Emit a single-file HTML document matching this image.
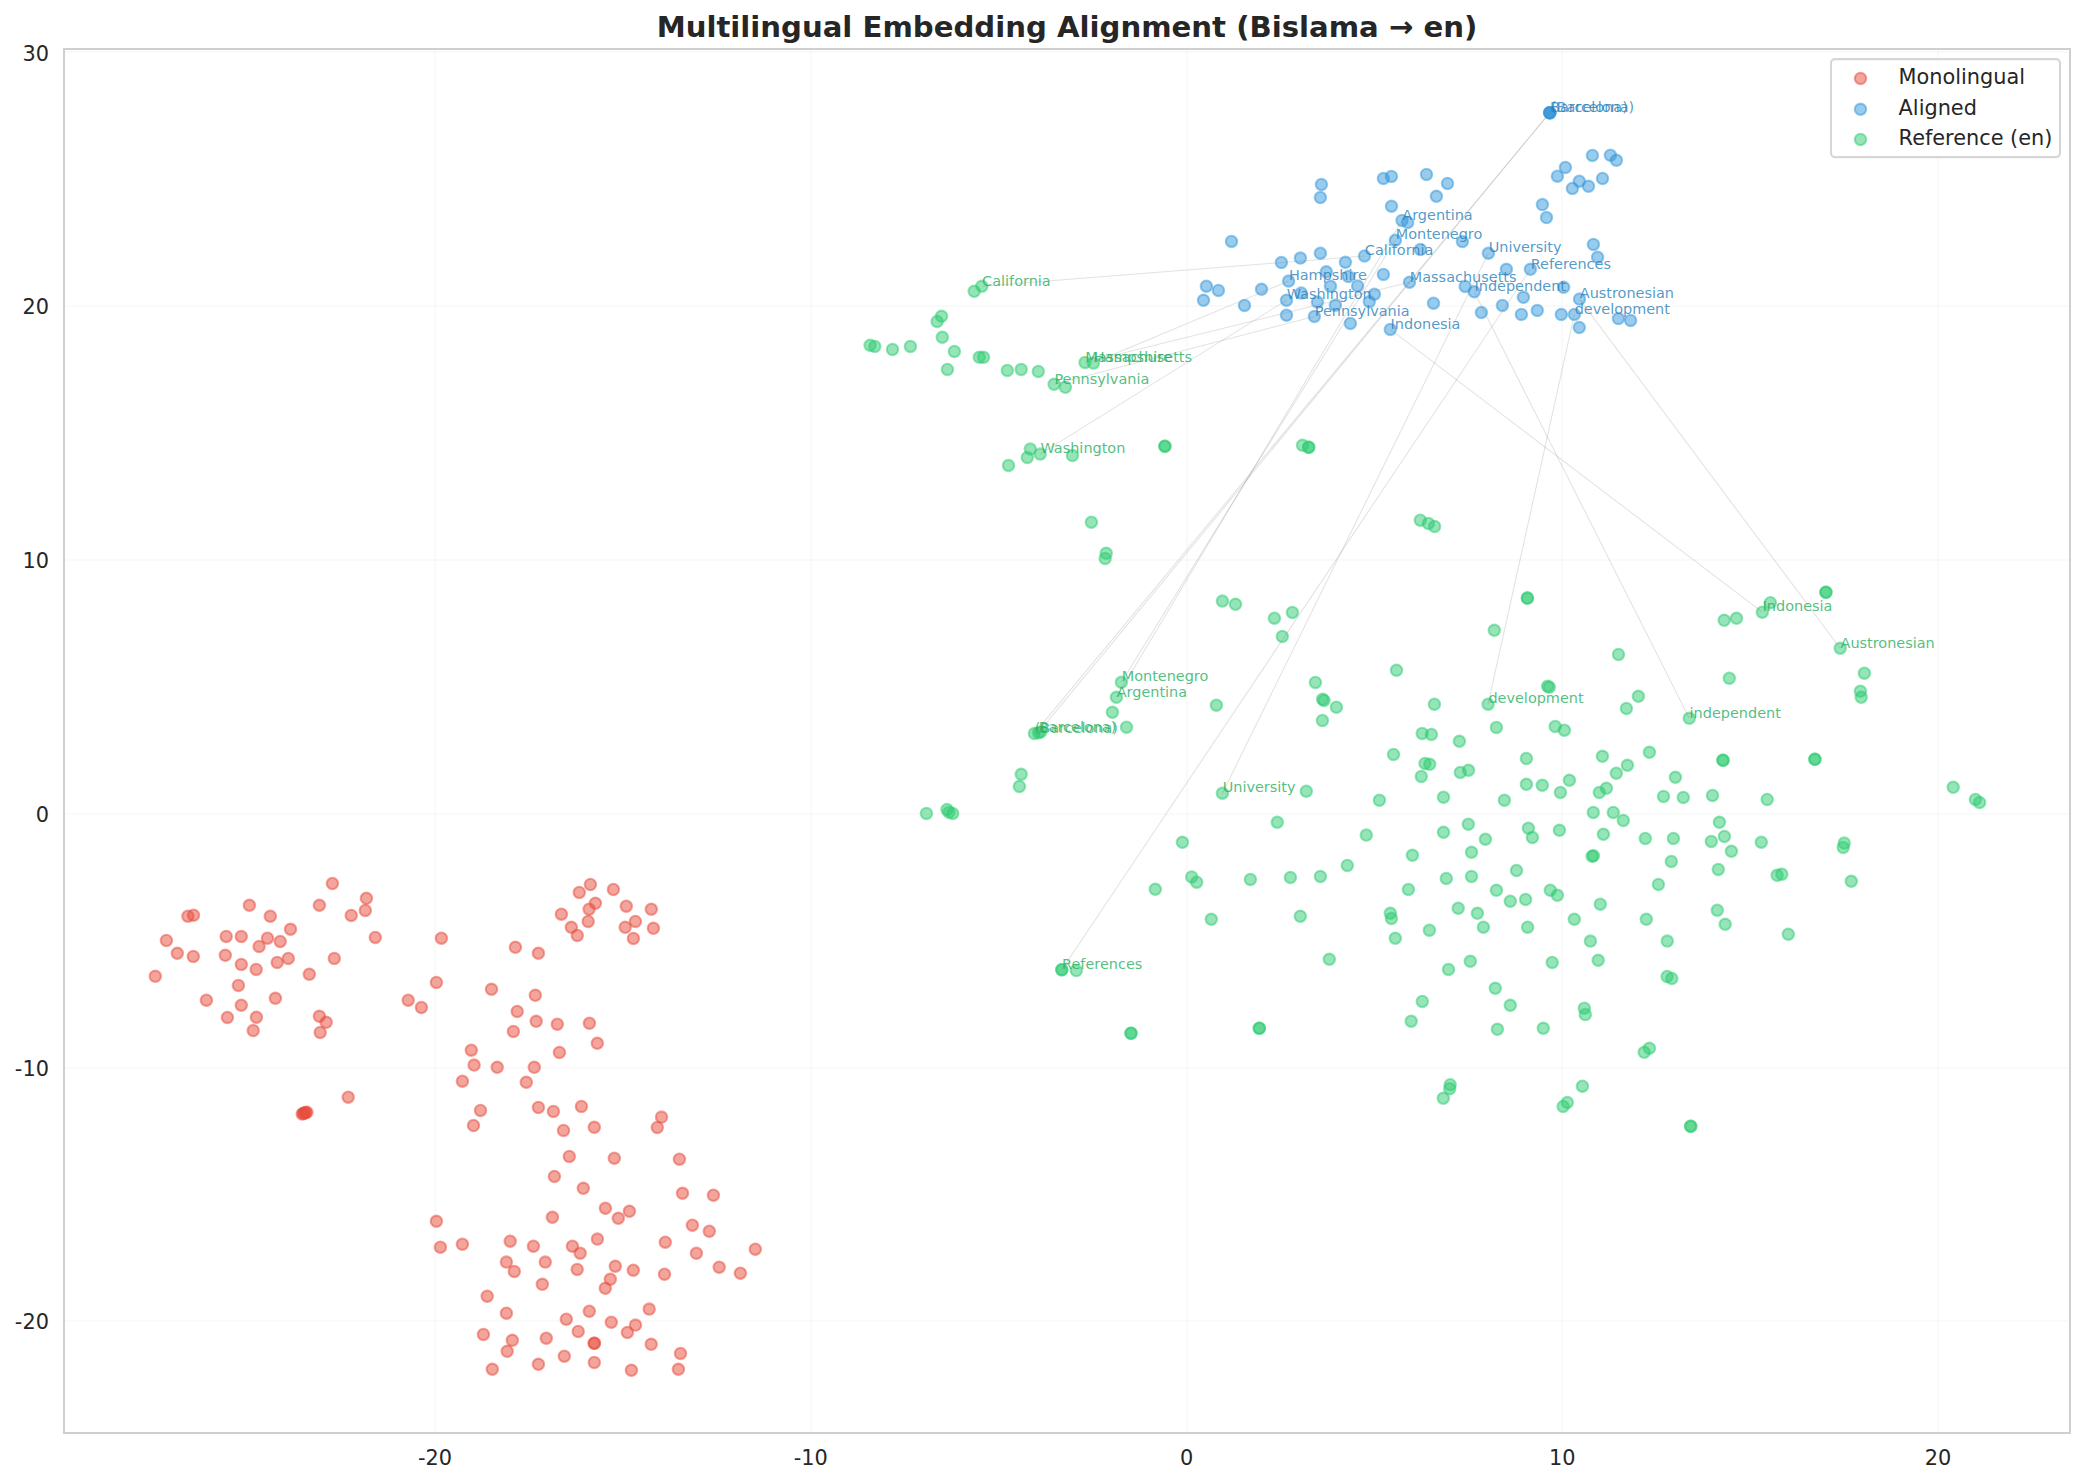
<!DOCTYPE html>
<html lang="en"><head><meta charset="utf-8"><title>Multilingual Embedding Alignment (Bislama → en)</title>
<style>
html,body{margin:0;padding:0;background:#fff}
svg{display:block}
text{font-family:"DejaVu Sans","Liberation Sans",sans-serif}
.tk{font-size:20.83px;fill:#262626}
.r{fill:#e74c3c;stroke:#e74c3c}.b{fill:#3498db;stroke:#3498db}.g{fill:#2ecc71;stroke:#2ecc71}
.p circle{fill-opacity:.5;stroke-opacity:.5;stroke-width:2.08}
.lb{font-size:14.45px;fill:#2980b9;fill-opacity:.8}
.lg{font-size:14.45px;fill:#27ae60;fill-opacity:.8}
.ln line{stroke:#808080;stroke-opacity:.23;stroke-width:1.04}
.gr line{stroke:#ccc;stroke-opacity:.1;stroke-width:2;shape-rendering:crispEdges}
</style></head><body>
<svg width="2085" height="1483" viewBox="0 0 2085 1483">
<rect width="2085" height="1483" fill="#fff"/>
<g class="gr">
<line x1="435" y1="49" x2="435" y2="1433"/>
<line x1="811" y1="49" x2="811" y2="1433"/>
<line x1="1187" y1="49" x2="1187" y2="1433"/>
<line x1="1562" y1="49" x2="1562" y2="1433"/>
<line x1="1938" y1="49" x2="1938" y2="1433"/>
<line x1="64" y1="1321" x2="2070" y2="1321"/>
<line x1="64" y1="1068" x2="2070" y2="1068"/>
<line x1="64" y1="814" x2="2070" y2="814"/>
<line x1="64" y1="560" x2="2070" y2="560"/>
<line x1="64" y1="306" x2="2070" y2="306"/>
<line x1="64" y1="52" x2="2070" y2="52"/>
</g>
<g class="p">
<g class="r">
<circle cx="332.4" cy="883.5" r="5.7"/>
<circle cx="366.4" cy="898.3" r="5.7"/>
<circle cx="365.3" cy="910.4" r="5.7"/>
<circle cx="319.4" cy="905.3" r="5.7"/>
<circle cx="351.2" cy="915.4" r="5.7"/>
<circle cx="249.4" cy="905.3" r="5.7"/>
<circle cx="270.3" cy="916.2" r="5.7"/>
<circle cx="187.9" cy="916.2" r="5.7"/>
<circle cx="193.5" cy="915.2" r="5.7"/>
<circle cx="290.5" cy="929.3" r="5.7"/>
<circle cx="226.2" cy="936.4" r="5.7"/>
<circle cx="241.3" cy="936.4" r="5.7"/>
<circle cx="267.5" cy="938.2" r="5.7"/>
<circle cx="280.2" cy="941.4" r="5.7"/>
<circle cx="259.1" cy="946.5" r="5.7"/>
<circle cx="166.4" cy="940.4" r="5.7"/>
<circle cx="375.3" cy="937.4" r="5.7"/>
<circle cx="441.4" cy="938.2" r="5.7"/>
<circle cx="177.3" cy="953.3" r="5.7"/>
<circle cx="193.3" cy="956.4" r="5.7"/>
<circle cx="225.3" cy="955.3" r="5.7"/>
<circle cx="288.3" cy="958.4" r="5.7"/>
<circle cx="277.2" cy="962.4" r="5.7"/>
<circle cx="334.3" cy="958.4" r="5.7"/>
<circle cx="241.3" cy="964.4" r="5.7"/>
<circle cx="256.2" cy="969.4" r="5.7"/>
<circle cx="309.3" cy="974.3" r="5.7"/>
<circle cx="155.3" cy="976.3" r="5.7"/>
<circle cx="238.4" cy="985.4" r="5.7"/>
<circle cx="436.4" cy="982.4" r="5.7"/>
<circle cx="206.4" cy="1000.2" r="5.7"/>
<circle cx="275.4" cy="998.3" r="5.7"/>
<circle cx="241.3" cy="1005.2" r="5.7"/>
<circle cx="408.2" cy="1000.2" r="5.7"/>
<circle cx="421.4" cy="1007.4" r="5.7"/>
<circle cx="227.4" cy="1017.5" r="5.7"/>
<circle cx="256.4" cy="1017.3" r="5.7"/>
<circle cx="319.4" cy="1016.3" r="5.7"/>
<circle cx="326.2" cy="1022.3" r="5.7"/>
<circle cx="253.2" cy="1030.6" r="5.7"/>
<circle cx="320.2" cy="1032.4" r="5.7"/>
<circle cx="471.3" cy="1050.2" r="5.7"/>
<circle cx="474.1" cy="1065.1" r="5.7"/>
<circle cx="462.4" cy="1081.2" r="5.7"/>
<circle cx="348.2" cy="1097.2" r="5.7"/>
<circle cx="302.2" cy="1113.9" r="5.7"/>
<circle cx="303.4" cy="1113.4" r="5.7"/>
<circle cx="304.5" cy="1112.9" r="5.7"/>
<circle cx="305.7" cy="1112.6" r="5.7"/>
<circle cx="306.9" cy="1112.2" r="5.7"/>
<circle cx="590.4" cy="884.5" r="5.7"/>
<circle cx="579.3" cy="892.4" r="5.7"/>
<circle cx="613.4" cy="889.5" r="5.7"/>
<circle cx="595.4" cy="903.3" r="5.7"/>
<circle cx="589.1" cy="909.2" r="5.7"/>
<circle cx="626.3" cy="906.2" r="5.7"/>
<circle cx="651.3" cy="909.2" r="5.7"/>
<circle cx="561.4" cy="914.2" r="5.7"/>
<circle cx="588.2" cy="921.4" r="5.7"/>
<circle cx="635.4" cy="921.4" r="5.7"/>
<circle cx="571.3" cy="927.3" r="5.7"/>
<circle cx="625.2" cy="927.3" r="5.7"/>
<circle cx="653.4" cy="928.3" r="5.7"/>
<circle cx="577.3" cy="935.4" r="5.7"/>
<circle cx="633.4" cy="938.4" r="5.7"/>
<circle cx="515.4" cy="947.3" r="5.7"/>
<circle cx="538.4" cy="953.3" r="5.7"/>
<circle cx="491.5" cy="989.3" r="5.7"/>
<circle cx="535.3" cy="995.3" r="5.7"/>
<circle cx="517.2" cy="1011.4" r="5.7"/>
<circle cx="536.2" cy="1021.3" r="5.7"/>
<circle cx="557.3" cy="1024.2" r="5.7"/>
<circle cx="589.4" cy="1023.2" r="5.7"/>
<circle cx="513.4" cy="1031.4" r="5.7"/>
<circle cx="597.3" cy="1043.3" r="5.7"/>
<circle cx="559.4" cy="1052.4" r="5.7"/>
<circle cx="497.2" cy="1067.3" r="5.7"/>
<circle cx="534.3" cy="1067.3" r="5.7"/>
<circle cx="526.3" cy="1082.3" r="5.7"/>
<circle cx="480.5" cy="1110.4" r="5.7"/>
<circle cx="538.4" cy="1107.4" r="5.7"/>
<circle cx="553.4" cy="1111.4" r="5.7"/>
<circle cx="581.4" cy="1106.4" r="5.7"/>
<circle cx="473.5" cy="1125.5" r="5.7"/>
<circle cx="563.5" cy="1130.4" r="5.7"/>
<circle cx="594.3" cy="1127.3" r="5.7"/>
<circle cx="661.5" cy="1117.1" r="5.7"/>
<circle cx="657.3" cy="1127.5" r="5.7"/>
<circle cx="569.3" cy="1156.4" r="5.7"/>
<circle cx="614.3" cy="1158.2" r="5.7"/>
<circle cx="679.4" cy="1159.2" r="5.7"/>
<circle cx="554.4" cy="1176.4" r="5.7"/>
<circle cx="583.3" cy="1188.3" r="5.7"/>
<circle cx="682.5" cy="1193.3" r="5.7"/>
<circle cx="713.4" cy="1195.2" r="5.7"/>
<circle cx="605.4" cy="1208.2" r="5.7"/>
<circle cx="629.4" cy="1211.3" r="5.7"/>
<circle cx="618.3" cy="1218.3" r="5.7"/>
<circle cx="552.4" cy="1217.3" r="5.7"/>
<circle cx="436.4" cy="1221.3" r="5.7"/>
<circle cx="692.4" cy="1225.2" r="5.7"/>
<circle cx="709.3" cy="1231.2" r="5.7"/>
<circle cx="510.2" cy="1241.2" r="5.7"/>
<circle cx="597.4" cy="1239.1" r="5.7"/>
<circle cx="665.3" cy="1242.2" r="5.7"/>
<circle cx="440.4" cy="1247.2" r="5.7"/>
<circle cx="462.4" cy="1244.2" r="5.7"/>
<circle cx="533.4" cy="1246.2" r="5.7"/>
<circle cx="572.4" cy="1246.2" r="5.7"/>
<circle cx="580.2" cy="1253.2" r="5.7"/>
<circle cx="755.3" cy="1249.2" r="5.7"/>
<circle cx="696.4" cy="1253.2" r="5.7"/>
<circle cx="506.4" cy="1262.1" r="5.7"/>
<circle cx="545.3" cy="1262.1" r="5.7"/>
<circle cx="514.3" cy="1271.4" r="5.7"/>
<circle cx="577.2" cy="1269.4" r="5.7"/>
<circle cx="615.3" cy="1266.3" r="5.7"/>
<circle cx="633.3" cy="1270.2" r="5.7"/>
<circle cx="664.5" cy="1274.2" r="5.7"/>
<circle cx="719.2" cy="1267.2" r="5.7"/>
<circle cx="740.4" cy="1273.2" r="5.7"/>
<circle cx="610.3" cy="1279.3" r="5.7"/>
<circle cx="605.3" cy="1288.3" r="5.7"/>
<circle cx="542.3" cy="1284.3" r="5.7"/>
<circle cx="487.2" cy="1296.2" r="5.7"/>
<circle cx="506.4" cy="1313.2" r="5.7"/>
<circle cx="589.3" cy="1311.2" r="5.7"/>
<circle cx="649.2" cy="1309.1" r="5.7"/>
<circle cx="566.3" cy="1319.2" r="5.7"/>
<circle cx="611.3" cy="1322.2" r="5.7"/>
<circle cx="635.5" cy="1325.1" r="5.7"/>
<circle cx="578.2" cy="1331.4" r="5.7"/>
<circle cx="627.4" cy="1332.4" r="5.7"/>
<circle cx="483.4" cy="1334.4" r="5.7"/>
<circle cx="512.3" cy="1340.3" r="5.7"/>
<circle cx="546.3" cy="1338.2" r="5.7"/>
<circle cx="594.3" cy="1343.3" r="5.7"/>
<circle cx="594.3" cy="1343.3" r="5.7"/>
<circle cx="651.2" cy="1344.3" r="5.7"/>
<circle cx="507.2" cy="1351.3" r="5.7"/>
<circle cx="564.3" cy="1356.2" r="5.7"/>
<circle cx="680.5" cy="1353.4" r="5.7"/>
<circle cx="538.4" cy="1364.3" r="5.7"/>
<circle cx="594.3" cy="1362.4" r="5.7"/>
<circle cx="492.3" cy="1369.3" r="5.7"/>
<circle cx="631.4" cy="1370.3" r="5.7"/>
<circle cx="678.4" cy="1369.3" r="5.7"/>
</g>
<g class="b">
<circle cx="1320.4" cy="197.5" r="5.7"/>
<circle cx="1391.5" cy="206.2" r="5.7"/>
<circle cx="1402.0" cy="220.4" r="5.7"/>
<circle cx="1407.7" cy="222.4" r="5.7"/>
<circle cx="1231.5" cy="241.4" r="5.7"/>
<circle cx="1395.4" cy="240.2" r="5.7"/>
<circle cx="1320.4" cy="253.2" r="5.7"/>
<circle cx="1420.4" cy="249.6" r="5.7"/>
<circle cx="1300.4" cy="258.1" r="5.7"/>
<circle cx="1364.5" cy="256.0" r="5.7"/>
<circle cx="1281.4" cy="262.4" r="5.7"/>
<circle cx="1345.4" cy="262.2" r="5.7"/>
<circle cx="1326.3" cy="271.8" r="5.7"/>
<circle cx="1383.4" cy="274.4" r="5.7"/>
<circle cx="1348.4" cy="276.5" r="5.7"/>
<circle cx="1288.6" cy="281.1" r="5.7"/>
<circle cx="1409.5" cy="282.3" r="5.7"/>
<circle cx="1206.4" cy="286.2" r="5.7"/>
<circle cx="1218.4" cy="290.4" r="5.7"/>
<circle cx="1261.5" cy="289.3" r="5.7"/>
<circle cx="1330.5" cy="286.2" r="5.7"/>
<circle cx="1357.6" cy="285.9" r="5.7"/>
<circle cx="1301.2" cy="293.0" r="5.7"/>
<circle cx="1374.4" cy="294.2" r="5.7"/>
<circle cx="1203.5" cy="300.3" r="5.7"/>
<circle cx="1286.5" cy="300.2" r="5.7"/>
<circle cx="1317.4" cy="302.0" r="5.7"/>
<circle cx="1369.3" cy="301.8" r="5.7"/>
<circle cx="1244.5" cy="305.4" r="5.7"/>
<circle cx="1335.4" cy="305.3" r="5.7"/>
<circle cx="1286.5" cy="315.2" r="5.7"/>
<circle cx="1314.4" cy="316.4" r="5.7"/>
<circle cx="1350.4" cy="323.4" r="5.7"/>
<circle cx="1390.3" cy="329.4" r="5.7"/>
<circle cx="1436.4" cy="196.3" r="5.7"/>
<circle cx="1542.4" cy="204.6" r="5.7"/>
<circle cx="1546.5" cy="217.6" r="5.7"/>
<circle cx="1462.4" cy="241.6" r="5.7"/>
<circle cx="1488.4" cy="253.2" r="5.7"/>
<circle cx="1593.4" cy="244.4" r="5.7"/>
<circle cx="1597.6" cy="257.2" r="5.7"/>
<circle cx="1506.4" cy="269.3" r="5.7"/>
<circle cx="1530.4" cy="269.3" r="5.7"/>
<circle cx="1465.2" cy="286.4" r="5.7"/>
<circle cx="1474.2" cy="291.8" r="5.7"/>
<circle cx="1563.6" cy="287.3" r="5.7"/>
<circle cx="1523.4" cy="297.3" r="5.7"/>
<circle cx="1579.5" cy="299.1" r="5.7"/>
<circle cx="1433.5" cy="303.2" r="5.7"/>
<circle cx="1502.4" cy="305.4" r="5.7"/>
<circle cx="1481.4" cy="312.5" r="5.7"/>
<circle cx="1521.4" cy="314.4" r="5.7"/>
<circle cx="1537.3" cy="310.4" r="5.7"/>
<circle cx="1561.3" cy="314.4" r="5.7"/>
<circle cx="1574.4" cy="314.4" r="5.7"/>
<circle cx="1618.4" cy="318.6" r="5.7"/>
<circle cx="1630.6" cy="320.4" r="5.7"/>
<circle cx="1579.3" cy="327.5" r="5.7"/>
<circle cx="1321.4" cy="184.5" r="5.7"/>
<circle cx="1383.4" cy="178.5" r="5.7"/>
<circle cx="1391.4" cy="176.4" r="5.7"/>
<circle cx="1426.5" cy="174.4" r="5.7"/>
<circle cx="1447.5" cy="183.4" r="5.7"/>
<circle cx="1549.8" cy="112.7" r="5.7"/>
<circle cx="1549.8" cy="112.7" r="5.7"/>
<circle cx="1549.8" cy="112.7" r="5.7"/>
<circle cx="1549.8" cy="112.7" r="5.7"/>
<circle cx="1592.4" cy="155.4" r="5.7"/>
<circle cx="1610.4" cy="155.2" r="5.7"/>
<circle cx="1616.4" cy="160.3" r="5.7"/>
<circle cx="1565.4" cy="167.4" r="5.7"/>
<circle cx="1557.4" cy="176.2" r="5.7"/>
<circle cx="1579.3" cy="181.2" r="5.7"/>
<circle cx="1572.4" cy="188.4" r="5.7"/>
<circle cx="1588.5" cy="186.3" r="5.7"/>
<circle cx="1602.5" cy="178.5" r="5.7"/>
</g>
<g class="g">
<circle cx="981.8" cy="286.3" r="5.7"/>
<circle cx="974.2" cy="291.3" r="5.7"/>
<circle cx="941.5" cy="316.3" r="5.7"/>
<circle cx="937.1" cy="321.5" r="5.7"/>
<circle cx="942.3" cy="337.3" r="5.7"/>
<circle cx="870.1" cy="345.3" r="5.7"/>
<circle cx="874.8" cy="346.4" r="5.7"/>
<circle cx="892.5" cy="349.4" r="5.7"/>
<circle cx="910.4" cy="346.4" r="5.7"/>
<circle cx="954.4" cy="351.4" r="5.7"/>
<circle cx="979.3" cy="357.3" r="5.7"/>
<circle cx="983.5" cy="357.3" r="5.7"/>
<circle cx="947.4" cy="369.4" r="5.7"/>
<circle cx="1007.3" cy="370.4" r="5.7"/>
<circle cx="1021.2" cy="369.4" r="5.7"/>
<circle cx="1038.3" cy="371.4" r="5.7"/>
<circle cx="1085.0" cy="362.5" r="5.7"/>
<circle cx="1093.4" cy="363.1" r="5.7"/>
<circle cx="1054.1" cy="384.3" r="5.7"/>
<circle cx="1065.4" cy="387.3" r="5.7"/>
<circle cx="1030.3" cy="449.1" r="5.7"/>
<circle cx="1040.2" cy="454.1" r="5.7"/>
<circle cx="1027.3" cy="457.5" r="5.7"/>
<circle cx="1008.5" cy="465.4" r="5.7"/>
<circle cx="1072.4" cy="455.5" r="5.7"/>
<circle cx="1164.9" cy="446.2" r="5.7"/>
<circle cx="1164.9" cy="446.2" r="5.7"/>
<circle cx="1302.5" cy="445.3" r="5.7"/>
<circle cx="1308.7" cy="447.3" r="5.7"/>
<circle cx="1308.7" cy="447.3" r="5.7"/>
<circle cx="1420.3" cy="520.2" r="5.7"/>
<circle cx="1428.4" cy="523.4" r="5.7"/>
<circle cx="1434.6" cy="526.4" r="5.7"/>
<circle cx="1222.4" cy="601.1" r="5.7"/>
<circle cx="1235.5" cy="604.3" r="5.7"/>
<circle cx="1274.4" cy="618.2" r="5.7"/>
<circle cx="1292.4" cy="612.4" r="5.7"/>
<circle cx="1282.3" cy="636.4" r="5.7"/>
<circle cx="1494.3" cy="630.3" r="5.7"/>
<circle cx="1527.4" cy="598.1" r="5.7"/>
<circle cx="1527.4" cy="598.1" r="5.7"/>
<circle cx="1396.5" cy="670.3" r="5.7"/>
<circle cx="1315.4" cy="682.4" r="5.7"/>
<circle cx="1216.4" cy="705.2" r="5.7"/>
<circle cx="1322.6" cy="699.3" r="5.7"/>
<circle cx="1324.0" cy="700.5" r="5.7"/>
<circle cx="1336.4" cy="707.2" r="5.7"/>
<circle cx="1322.4" cy="720.6" r="5.7"/>
<circle cx="1434.4" cy="704.2" r="5.7"/>
<circle cx="1488.1" cy="704.2" r="5.7"/>
<circle cx="1496.4" cy="727.4" r="5.7"/>
<circle cx="1422.2" cy="733.4" r="5.7"/>
<circle cx="1431.4" cy="734.4" r="5.7"/>
<circle cx="1459.4" cy="741.3" r="5.7"/>
<circle cx="1393.5" cy="754.4" r="5.7"/>
<circle cx="1526.4" cy="758.4" r="5.7"/>
<circle cx="1425.0" cy="763.5" r="5.7"/>
<circle cx="1429.7" cy="764.3" r="5.7"/>
<circle cx="1421.3" cy="776.4" r="5.7"/>
<circle cx="1460.3" cy="772.4" r="5.7"/>
<circle cx="1468.5" cy="770.3" r="5.7"/>
<circle cx="1526.4" cy="784.3" r="5.7"/>
<circle cx="1222.4" cy="793.2" r="5.7"/>
<circle cx="1306.3" cy="791.2" r="5.7"/>
<circle cx="1379.4" cy="800.2" r="5.7"/>
<circle cx="1443.5" cy="797.2" r="5.7"/>
<circle cx="1504.4" cy="800.2" r="5.7"/>
<circle cx="1277.3" cy="822.2" r="5.7"/>
<circle cx="1468.3" cy="824.2" r="5.7"/>
<circle cx="1366.3" cy="835.1" r="5.7"/>
<circle cx="1443.5" cy="832.3" r="5.7"/>
<circle cx="1528.4" cy="828.2" r="5.7"/>
<circle cx="1532.4" cy="837.5" r="5.7"/>
<circle cx="1485.4" cy="839.2" r="5.7"/>
<circle cx="1412.4" cy="855.3" r="5.7"/>
<circle cx="1471.5" cy="852.3" r="5.7"/>
<circle cx="1347.3" cy="865.4" r="5.7"/>
<circle cx="1191.7" cy="876.9" r="5.7"/>
<circle cx="1196.7" cy="882.2" r="5.7"/>
<circle cx="1250.4" cy="879.4" r="5.7"/>
<circle cx="1290.4" cy="877.4" r="5.7"/>
<circle cx="1320.4" cy="876.4" r="5.7"/>
<circle cx="1516.5" cy="870.5" r="5.7"/>
<circle cx="1446.3" cy="878.4" r="5.7"/>
<circle cx="1471.5" cy="876.4" r="5.7"/>
<circle cx="1408.4" cy="889.4" r="5.7"/>
<circle cx="1496.4" cy="890.3" r="5.7"/>
<circle cx="1510.3" cy="901.2" r="5.7"/>
<circle cx="1525.6" cy="899.4" r="5.7"/>
<circle cx="1458.2" cy="908.2" r="5.7"/>
<circle cx="1477.4" cy="913.3" r="5.7"/>
<circle cx="1390.3" cy="913.3" r="5.7"/>
<circle cx="1391.4" cy="918.5" r="5.7"/>
<circle cx="1211.3" cy="919.3" r="5.7"/>
<circle cx="1300.3" cy="916.3" r="5.7"/>
<circle cx="1483.4" cy="927.2" r="5.7"/>
<circle cx="1527.6" cy="927.2" r="5.7"/>
<circle cx="1429.4" cy="930.2" r="5.7"/>
<circle cx="1395.3" cy="938.3" r="5.7"/>
<circle cx="1329.3" cy="959.3" r="5.7"/>
<circle cx="1470.3" cy="961.3" r="5.7"/>
<circle cx="1448.5" cy="969.4" r="5.7"/>
<circle cx="1495.3" cy="988.3" r="5.7"/>
<circle cx="1422.3" cy="1001.4" r="5.7"/>
<circle cx="1510.3" cy="1005.3" r="5.7"/>
<circle cx="1411.2" cy="1021.2" r="5.7"/>
<circle cx="1497.4" cy="1029.3" r="5.7"/>
<circle cx="1259.3" cy="1028.3" r="5.7"/>
<circle cx="1259.3" cy="1028.3" r="5.7"/>
<circle cx="1450.2" cy="1084.7" r="5.7"/>
<circle cx="1449.7" cy="1088.7" r="5.7"/>
<circle cx="1552.2" cy="962.4" r="5.7"/>
<circle cx="1598.2" cy="960.3" r="5.7"/>
<circle cx="1667.1" cy="976.5" r="5.7"/>
<circle cx="1671.8" cy="978.5" r="5.7"/>
<circle cx="1584.3" cy="1008.2" r="5.7"/>
<circle cx="1585.3" cy="1014.6" r="5.7"/>
<circle cx="1543.3" cy="1028.3" r="5.7"/>
<circle cx="1649.4" cy="1048.3" r="5.7"/>
<circle cx="1644.2" cy="1052.3" r="5.7"/>
<circle cx="1443.3" cy="1098.3" r="5.7"/>
<circle cx="1582.4" cy="1086.2" r="5.7"/>
<circle cx="1567.3" cy="1102.4" r="5.7"/>
<circle cx="1563.1" cy="1106.5" r="5.7"/>
<circle cx="1690.7" cy="1126.2" r="5.7"/>
<circle cx="1690.7" cy="1126.2" r="5.7"/>
<circle cx="1602.4" cy="756.3" r="5.7"/>
<circle cx="1649.4" cy="752.3" r="5.7"/>
<circle cx="1627.4" cy="765.3" r="5.7"/>
<circle cx="1616.3" cy="773.2" r="5.7"/>
<circle cx="1723.0" cy="760.3" r="5.7"/>
<circle cx="1723.0" cy="760.3" r="5.7"/>
<circle cx="1814.9" cy="759.3" r="5.7"/>
<circle cx="1814.9" cy="759.3" r="5.7"/>
<circle cx="1675.4" cy="777.3" r="5.7"/>
<circle cx="1569.4" cy="780.3" r="5.7"/>
<circle cx="1542.3" cy="785.3" r="5.7"/>
<circle cx="1560.4" cy="792.4" r="5.7"/>
<circle cx="1606.4" cy="788.3" r="5.7"/>
<circle cx="1599.3" cy="792.4" r="5.7"/>
<circle cx="1663.5" cy="796.4" r="5.7"/>
<circle cx="1683.3" cy="797.4" r="5.7"/>
<circle cx="1712.5" cy="795.4" r="5.7"/>
<circle cx="1767.2" cy="799.4" r="5.7"/>
<circle cx="1593.3" cy="812.4" r="5.7"/>
<circle cx="1613.3" cy="812.4" r="5.7"/>
<circle cx="1623.3" cy="820.4" r="5.7"/>
<circle cx="1719.4" cy="822.3" r="5.7"/>
<circle cx="1559.4" cy="830.3" r="5.7"/>
<circle cx="1603.4" cy="834.3" r="5.7"/>
<circle cx="1645.3" cy="838.4" r="5.7"/>
<circle cx="1673.4" cy="838.4" r="5.7"/>
<circle cx="1724.4" cy="836.4" r="5.7"/>
<circle cx="1711.3" cy="841.4" r="5.7"/>
<circle cx="1761.3" cy="842.2" r="5.7"/>
<circle cx="1731.4" cy="851.3" r="5.7"/>
<circle cx="1844.2" cy="843.1" r="5.7"/>
<circle cx="1843.2" cy="847.4" r="5.7"/>
<circle cx="1592.1" cy="856.3" r="5.7"/>
<circle cx="1593.5" cy="855.8" r="5.7"/>
<circle cx="1671.3" cy="861.4" r="5.7"/>
<circle cx="1718.3" cy="869.4" r="5.7"/>
<circle cx="1777.1" cy="875.3" r="5.7"/>
<circle cx="1781.8" cy="874.3" r="5.7"/>
<circle cx="1851.3" cy="881.3" r="5.7"/>
<circle cx="1658.4" cy="884.4" r="5.7"/>
<circle cx="1550.3" cy="890.2" r="5.7"/>
<circle cx="1557.4" cy="895.3" r="5.7"/>
<circle cx="1600.3" cy="904.2" r="5.7"/>
<circle cx="1717.3" cy="910.2" r="5.7"/>
<circle cx="1574.3" cy="919.3" r="5.7"/>
<circle cx="1646.3" cy="919.3" r="5.7"/>
<circle cx="1725.2" cy="924.3" r="5.7"/>
<circle cx="1788.3" cy="934.2" r="5.7"/>
<circle cx="1590.4" cy="941.1" r="5.7"/>
<circle cx="1667.3" cy="941.1" r="5.7"/>
<circle cx="1825.9" cy="592.3" r="5.7"/>
<circle cx="1825.9" cy="592.3" r="5.7"/>
<circle cx="1770.4" cy="602.7" r="5.7"/>
<circle cx="1762.3" cy="612.2" r="5.7"/>
<circle cx="1736.5" cy="618.3" r="5.7"/>
<circle cx="1724.2" cy="620.3" r="5.7"/>
<circle cx="1840.2" cy="648.3" r="5.7"/>
<circle cx="1618.5" cy="654.4" r="5.7"/>
<circle cx="1864.4" cy="673.2" r="5.7"/>
<circle cx="1729.3" cy="678.2" r="5.7"/>
<circle cx="1547.6" cy="686.3" r="5.7"/>
<circle cx="1549.3" cy="687.3" r="5.7"/>
<circle cx="1860.4" cy="691.3" r="5.7"/>
<circle cx="1861.2" cy="697.3" r="5.7"/>
<circle cx="1638.4" cy="696.3" r="5.7"/>
<circle cx="1626.4" cy="708.4" r="5.7"/>
<circle cx="1689.3" cy="718.3" r="5.7"/>
<circle cx="1555.2" cy="726.4" r="5.7"/>
<circle cx="1564.4" cy="730.2" r="5.7"/>
<circle cx="1953.2" cy="787.3" r="5.7"/>
<circle cx="1975.4" cy="799.4" r="5.7"/>
<circle cx="1979.6" cy="802.4" r="5.7"/>
<circle cx="1091.4" cy="522.2" r="5.7"/>
<circle cx="1106.2" cy="553.3" r="5.7"/>
<circle cx="1105.2" cy="558.5" r="5.7"/>
<circle cx="1121.4" cy="682.2" r="5.7"/>
<circle cx="1116.4" cy="697.3" r="5.7"/>
<circle cx="1112.4" cy="712.3" r="5.7"/>
<circle cx="1126.5" cy="727.2" r="5.7"/>
<circle cx="1034.4" cy="733.4" r="5.7"/>
<circle cx="1038.4" cy="732.7" r="5.7"/>
<circle cx="1040.7" cy="731.9" r="5.7"/>
<circle cx="1021.2" cy="774.3" r="5.7"/>
<circle cx="1019.4" cy="786.4" r="5.7"/>
<circle cx="926.4" cy="813.4" r="5.7"/>
<circle cx="947.0" cy="809.5" r="5.7"/>
<circle cx="949.0" cy="812.2" r="5.7"/>
<circle cx="952.7" cy="813.4" r="5.7"/>
<circle cx="1182.4" cy="842.3" r="5.7"/>
<circle cx="1155.3" cy="889.3" r="5.7"/>
<circle cx="1061.8" cy="969.7" r="5.7"/>
<circle cx="1061.8" cy="969.7" r="5.7"/>
<circle cx="1076.3" cy="970.6" r="5.7"/>
<circle cx="1131.0" cy="1033.2" r="5.7"/>
<circle cx="1131.0" cy="1033.2" r="5.7"/>
</g>
</g>
<g class="ln">
<line x1="1549.8" y1="112.7" x2="1038.4" y2="732.7"/>
<line x1="1549.8" y1="112.7" x2="1034.4" y2="733.4"/>
<line x1="1402.0" y1="220.4" x2="1116.4" y2="697.3"/>
<line x1="1395.4" y1="240.2" x2="1121.4" y2="682.2"/>
<line x1="1364.5" y1="256.0" x2="981.8" y2="286.3"/>
<line x1="1488.4" y1="253.2" x2="1222.4" y2="793.2"/>
<line x1="1530.4" y1="269.3" x2="1061.8" y2="969.7"/>
<line x1="1288.6" y1="281.1" x2="1093.4" y2="362.8"/>
<line x1="1409.5" y1="282.3" x2="1085.0" y2="362.5"/>
<line x1="1474.2" y1="291.8" x2="1689.3" y2="718.3"/>
<line x1="1286.5" y1="300.2" x2="1040.2" y2="454.1"/>
<line x1="1579.5" y1="299.1" x2="1840.2" y2="648.3"/>
<line x1="1574.4" y1="314.4" x2="1488.1" y2="704.2"/>
<line x1="1314.4" y1="316.4" x2="1054.1" y2="384.3"/>
<line x1="1390.3" y1="329.4" x2="1762.3" y2="612.2"/>
</g>
<g class="lb">
<text x="1550.1" y="111.9">Barcelona)</text>
<text x="1550.9" y="111.9">(Barcelona)</text>
<text x="1402.3" y="219.6">Argentina</text>
<text x="1395.7" y="239.4">Montenegro</text>
<text x="1364.8" y="255.2">California</text>
<text x="1488.7" y="252.4">University</text>
<text x="1530.7" y="268.5">References</text>
<text x="1288.9" y="280.3">Hampshire</text>
<text x="1409.8" y="281.5">Massachusetts</text>
<text x="1474.5" y="291.0">Independent</text>
<text x="1286.8" y="299.4">Washington</text>
<text x="1579.8" y="298.3">Austronesian</text>
<text x="1574.7" y="313.6">development</text>
<text x="1314.7" y="315.6">Pennsylvania</text>
<text x="1390.6" y="328.6">Indonesia</text>
</g>
<g class="lg">
<text x="982.1" y="285.5">California</text>
<text x="1085.3" y="361.7">Massachusetts</text>
<text x="1093.7" y="362.0">Hampshire</text>
<text x="1054.4" y="383.5">Pennsylvania</text>
<text x="1040.5" y="453.3">Washington</text>
<text x="1121.7" y="681.4">Montenegro</text>
<text x="1116.7" y="696.5">Argentina</text>
<text x="1038.7" y="731.9">Barcelona)</text>
<text x="1034.7" y="732.6">(Barcelona)</text>
<text x="1222.7" y="792.4">University</text>
<text x="1488.4" y="703.4">development</text>
<text x="1762.6" y="611.4">Indonesia</text>
<text x="1840.5" y="647.5">Austronesian</text>
<text x="1689.6" y="717.5">independent</text>
<text x="1062.1" y="968.9">References</text>
</g>
<rect x="64" y="49" width="2006" height="1384" fill="none" stroke="#cfcfcf" stroke-width="2" shape-rendering="crispEdges"/>
<g class="tk">
<text x="435.1" y="1464.5" text-anchor="middle">-20</text>
<text x="810.8" y="1464.5" text-anchor="middle">-10</text>
<text x="1186.6" y="1464.5" text-anchor="middle">0</text>
<text x="1562.3" y="1464.5" text-anchor="middle">10</text>
<text x="1938.1" y="1464.5" text-anchor="middle">20</text>
<text x="48.9" y="1329.3" text-anchor="end">-20</text>
<text x="48.9" y="1075.5" text-anchor="end">-10</text>
<text x="48.9" y="821.8" text-anchor="end">0</text>
<text x="48.9" y="568.1" text-anchor="end">10</text>
<text x="48.9" y="314.3" text-anchor="end">20</text>
<text x="48.9" y="60.6" text-anchor="end">30</text>
</g>
<text x="1067" y="37.2" text-anchor="middle" font-size="29.17" font-weight="bold" fill="#262626">Multilingual Embedding Alignment (Bislama → en)</text>
<rect x="1831" y="59.1" width="229" height="98" rx="4" ry="4" fill="#fff" fill-opacity=".8" stroke="#ccc" stroke-opacity=".8" stroke-width="2.08"/>
<g class="p">
<circle class="r" cx="1860.5" cy="78.4" r="5.7"/>
<circle class="b" cx="1860.5" cy="109.3" r="5.7"/>
<circle class="g" cx="1860.5" cy="139.4" r="5.7"/>
</g><g class="tk">
<text x="1898.6" y="83.6">Monolingual</text>
<text x="1898.6" y="114.5">Aligned</text>
<text x="1898.6" y="145.0">Reference (en)</text>
</g>
</svg></body></html>
